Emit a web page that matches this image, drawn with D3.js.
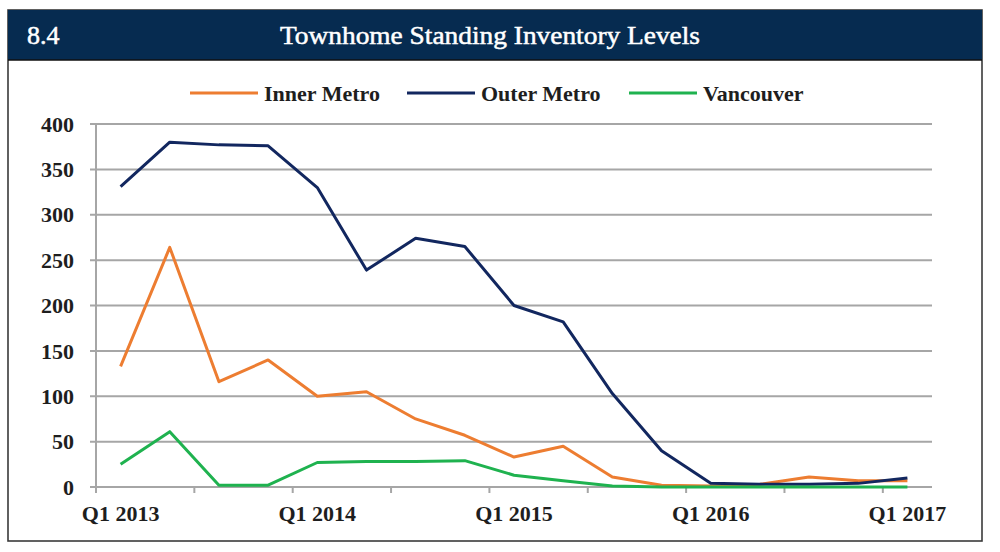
<!DOCTYPE html>
<html><head><meta charset="utf-8">
<script src="https://cdn.jsdelivr.net/npm/d3@7"></script>
<style>html,body{margin:0;padding:0;background:#fff;}svg{display:block;}</style>
</head><body>
<svg id="c" width="1000" height="552"></svg>
<script>
const quarters = ["Q1 2013","Q2 2013","Q3 2013","Q4 2013","Q1 2014","Q2 2014","Q3 2014","Q4 2014","Q1 2015","Q2 2015","Q3 2015","Q4 2015","Q1 2016","Q2 2016","Q3 2016","Q4 2016","Q1 2017"];
const xTickLabels = ["Q1 2013","Q1 2014","Q1 2015","Q1 2016","Q1 2017"];
const yTicks = [0,50,100,150,200,250,300,350,400];
const innerMetro = [133,264,116,140,100,105,75,57,33,45,11,2,1,3,11,7,7];
const outerMetro = [331,380,377,376,330,239,274,265,200,182,103,40,4,3,3,4,10];
const vancouver  = [25,61,2,2,27,28,28,29,13,7,1,0,0,0,0,0,0];
const seriesNames = ["Inner Metro","Outer Metro","Vancouver"];
const seriesColors = ["#ed7d31","#12275f","#1fb24f"];
const seriesValues = [innerMetro, outerMetro, vancouver];

const svg = d3.select("#c");
const serif = "'Liberation Serif','Times New Roman',serif";

// frame
svg.append("rect").attr("x",8).attr("y",10).attr("width",974).attr("height",531)
  .attr("fill","#fff").attr("stroke","#3a3a3a").attr("stroke-width",1.6);
svg.append("rect").attr("x",8).attr("y",10).attr("width",974).attr("height",50)
  .attr("fill","#062b50");
svg.append("line").attr("x1",8).attr("x2",982).attr("y1",60).attr("y2",60)
  .attr("stroke","#111").attr("stroke-width",1.5);
svg.append("text").attr("x",27).attr("y",44).text("8.4")
  .attr("fill","#fff").attr("stroke","#fff").attr("stroke-width",0.5)
  .style("font-family",serif).style("font-size","26px");
svg.append("text").attr("x",280).attr("y",44).text("Townhome Standing Inventory Levels")
  .attr("textLength",420).attr("lengthAdjust","spacingAndGlyphs")
  .attr("fill","#fff").attr("stroke","#fff").attr("stroke-width",0.5)
  .style("font-family",serif).style("font-size","26px");

const x = d3.scaleBand().domain(d3.range(quarters.length)).range([96,932]);
const y = d3.scaleLinear().domain([0,400]).range([487,124]);

// gridlines
svg.append("g").selectAll("line").data(yTicks).join("line")
  .attr("x1",90).attr("x2",932)
  .attr("y1",d=>y(d)).attr("y2",d=>y(d))
  .attr("stroke","#a6a6a6").attr("stroke-width",2);
// y axis line
svg.append("line").attr("x1",96).attr("x2",96).attr("y1",y(400)).attr("y2",y(0)+6)
  .attr("stroke","#a6a6a6").attr("stroke-width",2);
// x ticks every 2 categories
svg.append("g").selectAll("line").data(d3.range(0,quarters.length,2)).join("line")
  .attr("x1",d=>x(d)).attr("x2",d=>x(d)).attr("y1",y(0)).attr("y2",y(0)+6)
  .attr("stroke","#a6a6a6").attr("stroke-width",2);

// y labels
svg.append("g").selectAll("text").data(yTicks).join("text")
  .attr("x",74).attr("y",d=>y(d)).attr("dy","0.35em").attr("text-anchor","end")
  .text(d=>d).attr("fill","#1e1e1e")
  .style("font-family",serif).style("font-size","22px").style("font-weight","bold");
// x labels
svg.append("g").selectAll("text").data(xTickLabels).join("text")
  .attr("x",d=>x(quarters.indexOf(d))+x.bandwidth()/2).attr("y",521).attr("text-anchor","middle")
  .text(d=>d).attr("fill","#1e1e1e")
  .style("font-family",serif).style("font-size","22px").style("font-weight","bold");

// lines
const line = d3.line().x((d,i)=>x(i)+x.bandwidth()/2).y(d=>y(d));
seriesValues.forEach((vals,k)=>{
  svg.append("path").datum(vals).attr("d",line).attr("fill","none")
    .attr("stroke",seriesColors[k]).attr("stroke-width",3).attr("stroke-linejoin","round");
});

// legend
const legX = [190,407,629];
const lg = svg.append("g").selectAll("g").data(seriesNames).join("g")
  .attr("transform",(d,i)=>`translate(${legX[i]},93)`);
lg.append("line").attr("x1",0).attr("x2",68).attr("y1",0).attr("y2",0)
  .attr("stroke",(d,i)=>seriesColors[i]).attr("stroke-width",3);
lg.append("text").attr("x",74).attr("y",0).attr("dy","0.35em").text(d=>d)
  .attr("fill","#1e1e1e").style("font-family",serif).style("font-size","22px").style("font-weight","bold");
</script>
</body></html>
